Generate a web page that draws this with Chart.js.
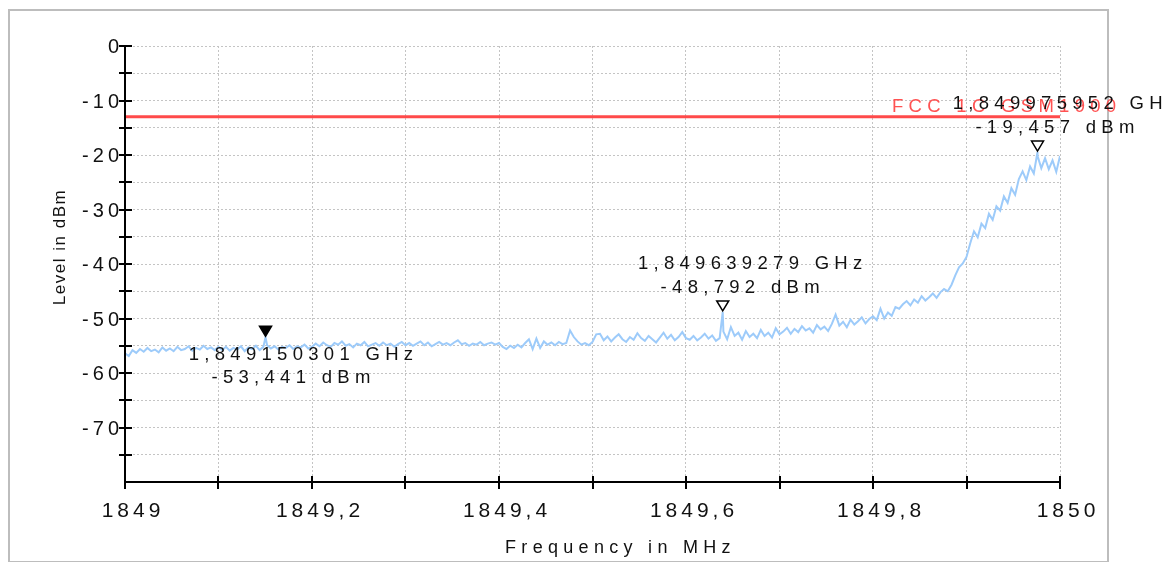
<!DOCTYPE html>
<html>
<head>
<meta charset="utf-8">
<script src="https://cdn.jsdelivr.net/npm/chart.js@4/dist/chart.umd.min.js"></script>
<style>
  html, body { margin: 0; padding: 0; background: #fff; }
  #wrap { width: 1174px; height: 562px; }
</style>
</head>
<body>
<div id="wrap"><canvas id="spectrum" width="1174" height="562"></canvas></div>
<script>
// Spectrum sweep 1849–1850 MHz, one level per 0.004 MHz bin
const sweepStartMHz = 1849;
const sweepStepMHz = 0.004;
const levelsDbm = [
  -56.4, -56.9, -55.8, -56.3, -55.6, -56.1, -55.4, -56.0, -55.7, -56.2,
  -55.3, -55.9, -55.5, -56.0, -55.2, -55.8, -55.6, -55.1, -55.9, -55.4,
  -55.7, -55.0, -55.6, -55.3, -55.8, -55.2,
  -55.8, -55.2, -55.9, -55.4, -55.7, -55.1, -56.0, -55.3, -55.6, -55.0,
  -55.8, -55.2, -54.9, -55.5, -55.1, -55.7, -55.2, -55.4, -54.9, -55.6,
  -55.1, -55.3, -54.8, -55.5, -55.2,
  -54.6, -55.1, -54.4, -54.9, -55.2, -54.5, -54.8, -54.2, -55.0, -54.7,
  -55.3, -54.6, -54.9, -54.3, -55.1, -54.8, -54.5, -55.0, -54.4, -54.9,
  -54.6, -55.2, -54.7, -54.3, -54.9,
  -54.5, -55.0, -54.6, -54.2, -54.9, -54.4, -55.1, -54.7, -54.3, -54.8,
  -54.5, -54.9, -54.4, -54.0, -54.7, -54.5, -55.0, -54.6, -54.8, -54.3,
  -54.9, -54.6, -54.4, -54.8, -54.5,
  -55.2, -55.6, -55.0, -55.4, -54.8, -55.3, -54.5, -53.8, -55.6, -53.7,
  -55.4, -54.2, -54.8, -54.4, -54.9, -54.3, -54.7, -54.5, -52.2, -53.4,
  -54.2, -54.8, -54.5, -54.9, -54.3,
  -52.9, -52.8, -54.0, -53.3, -54.2, -53.5, -52.9, -53.8, -54.3, -53.4,
  -53.9, -52.7, -53.6, -54.1, -53.2, -53.8, -54.4, -53.5, -52.6, -53.7,
  -53.0, -54.0, -53.4, -52.5, -53.6,
  -53.9, -53.2, -54.0, -53.5, -52.8, -53.7, -53.1, -54.1, -53.6, -52.4,
  -53.8, -51.6, -53.2, -52.6, -53.9, -52.3, -53.4, -52.8, -53.6, -52.1,
  -53.2, -52.6, -53.5, -51.8, -52.9,
  -52.4, -51.7, -52.8, -51.9, -52.5, -51.4, -52.2, -51.8, -52.6, -51.2,
  -52.0, -51.5, -52.3, -51.0, -49.3, -51.3, -50.6, -51.6, -50.2, -51.1,
  -50.5, -49.8, -50.9, -50.1, -49.6,
  -50.3, -48.2, -50.0, -48.9, -49.5, -47.9, -48.2, -47.4, -46.8, -47.6,
  -46.5, -47.1, -45.9, -46.7, -46.1, -45.4, -46.2, -45.2, -44.6, -45.0,
  -43.8, -42.1, -40.6, -39.9, -38.7,
  -36.2, -34.0, -35.1, -32.6, -33.4, -30.8, -31.9, -29.4, -30.2, -27.6,
  -28.8, -26.1, -27.3, -24.4, -23.0, -24.6, -22.1, -23.4, -20.2, -22.4,
  -20.6, -22.6, -21.0, -23.1, -20.2
];

// Marker readouts
const markerFreqGHz = [1.849150301, 1.849639279, 1.849975952];
const markerLevelDbm = [-53.441, -48.792, -19.457];

// Emission limit line
const limitDbm = -13;
const limitName = 'FCC 1C GSM1900';

// Axis ticks and their labels
const xTickValues = [1849, 1849.1, 1849.2, 1849.3, 1849.4, 1849.5, 1849.6, 1849.7, 1849.8, 1849.9, 1850];
const xTickLabels = ['1849', '', '1849,2', '', '1849,4', '', '1849,6', '', '1849,8', '', '1850'];
const yTickValues = [-80, -75, -70, -65, -60, -55, -50, -45, -40, -35, -30, -25, -20, -15, -10, -5, 0];
const yTickLabels = ['', '', '-70', '', '-60', '', '-50', '', '-40', '', '-30', '', '-20', '', '-10', '', '0'];

const xTitle = 'Frequency in MHz';
const yTitle = 'Level in dBm';

const FONT = '"Liberation Sans", Arial, Helvetica, sans-serif';
const TICK_SPACING = '4px';

// Trace points: sweep bins plus the exact marker readouts
const trace = levelsDbm.map((y, i) => ({ x: +(sweepStartMHz + i * sweepStepMHz).toFixed(3), y }));
markerFreqGHz.forEach((f, k) => trace.push({ x: f * 1000, y: markerLevelDbm[k] }));
trace.sort((a, b) => a.x - b.x);

const fmtComma = (v, digits) => v.toFixed(digits).replace('.', ',');

const analyzerDecor = {
  id: 'analyzerDecor',
  beforeLayout(chart) {
    chart.ctx.letterSpacing = TICK_SPACING;
  },
  beforeDraw(chart) {
    const ctx = chart.ctx;
    ctx.letterSpacing = TICK_SPACING;
    ctx.save();
    ctx.strokeStyle = '#bdbdbd';
    ctx.lineWidth = 2;
    ctx.strokeRect(9, 10, 1099, 552);
    ctx.restore();
  },
  afterDraw(chart) {
    const { ctx, chartArea: a, scales: { x, y } } = chart;
    ctx.save();

    // Axis lines with tick marks crossing them
    ctx.strokeStyle = '#000';
    ctx.lineWidth = 2;
    ctx.beginPath();
    ctx.moveTo(a.left, a.top - 1);
    ctx.lineTo(a.left, a.bottom + 1);
    ctx.moveTo(a.left - 1, a.bottom);
    ctx.lineTo(a.right + 1, a.bottom);
    xTickValues.forEach(v => {
      const px = Math.round(x.getPixelForValue(v));
      ctx.moveTo(px, a.bottom - 6);
      ctx.lineTo(px, a.bottom + 7);
    });
    yTickValues.forEach(v => {
      if (v === y.min) return;
      const py = Math.round(y.getPixelForValue(v));
      ctx.moveTo(a.left - 6, py);
      ctx.lineTo(a.left + 7, py);
    });
    ctx.stroke();

    // Axis titles
    ctx.fillStyle = '#111';
    ctx.textAlign = 'center';
    ctx.textBaseline = 'alphabetic';
    ctx.font = `18px ${FONT}`;
    ctx.letterSpacing = '5.3px';
    ctx.fillText(xTitle, (a.left + a.right) / 2 + 28, a.bottom + 71);

    ctx.save();
    ctx.translate(65, (a.top + a.bottom) / 2 - 17);
    ctx.rotate(-Math.PI / 2);
    ctx.font = `17px ${FONT}`;
    ctx.letterSpacing = '1.5px';
    ctx.fillText(yTitle, 0, 0);
    ctx.restore();

    // Limit line name
    ctx.fillStyle = '#ff5252';
    ctx.textAlign = 'left';
    ctx.font = `18.5px ${FONT}`;
    ctx.letterSpacing = '5.3px';
    ctx.fillText(limitName, a.right - 168, y.getPixelForValue(limitDbm) - 5);

    // Markers: triangle at the point, frequency and level readout
    ctx.save();
    ctx.beginPath();
    ctx.rect(0, 0, 1165, chart.height);
    ctx.clip();
    markerFreqGHz.forEach((f, k) => {
      const px = x.getPixelForValue(f * 1000);
      const py = y.getPixelForValue(markerLevelDbm[k]);
      const isRef = k === 0;
      ctx.beginPath();
      ctx.moveTo(px - 6, py - 11);
      ctx.lineTo(px + 6, py - 11);
      ctx.lineTo(px, py - 1);
      ctx.closePath();
      ctx.lineWidth = 1.5;
      ctx.strokeStyle = '#000';
      ctx.fillStyle = isRef ? '#000' : '#fff';
      ctx.fill();
      ctx.stroke();

      const line1 = `${fmtComma(f, 9)} GHz`;
      const line2 = `${fmtComma(markerLevelDbm[k], 3)} dBm`;
      ctx.fillStyle = '#111';
      ctx.textAlign = 'center';
      ctx.font = `18.5px ${FONT}`;
      ctx.letterSpacing = '5.3px';
      if (isRef) {
        ctx.fillText(line1, px + 38, py + 23);
        ctx.fillText(line2, px + 28, py + 46);
      } else {
        ctx.fillText(line1, px + 30, py - 43);
        ctx.fillText(line2, px + 20, py - 19);
      }
    });
    ctx.restore();

    ctx.restore();
    ctx.letterSpacing = TICK_SPACING;
  }
};

const gridStyle = { color: '#c4c4c4', lineWidth: 1, drawTicks: false };

new Chart(document.getElementById('spectrum'), {
  type: 'line',
  data: {
    datasets: [
      {
        data: trace,
        borderColor: '#9dcbfa',
        borderWidth: 2,
        pointRadius: 0,
        tension: 0,
        order: 2
      },
      {
        data: [{ x: xTickValues[0], y: limitDbm }, { x: xTickValues[xTickValues.length - 1], y: limitDbm }],
        borderColor: '#ff4a4a',
        borderWidth: 3,
        pointRadius: 0,
        order: 1
      }
    ]
  },
  options: {
    responsive: false,
    animation: false,
    events: [],
    layout: { padding: { left: 0, top: 46, right: 114, bottom: 0 } },
    plugins: { legend: { display: false }, tooltip: { enabled: false } },
    scales: {
      x: {
        type: 'linear',
        min: xTickValues[0],
        max: xTickValues[xTickValues.length - 1],
        afterBuildTicks: s => { s.ticks = xTickValues.map(v => ({ value: v })); },
        afterFit: s => { s.height = 80; },
        grid: gridStyle,
        border: { display: false, dash: [2, 2] },
        ticks: {
          autoSkip: false, maxRotation: 0, minRotation: 0,
          padding: 17, labelOffset: 8, color: '#111',
          font: { family: FONT, size: 21 },
          callback: (v, i) => xTickLabels[i]
        }
      },
      y: {
        type: 'linear',
        min: yTickValues[0],
        max: yTickValues[yTickValues.length - 1],
        afterBuildTicks: s => { s.ticks = yTickValues.map(v => ({ value: v })); },
        afterFit: s => { s.width = 125; },
        grid: gridStyle,
        border: { display: false, dash: [2, 2] },
        ticks: {
          autoSkip: false,
          padding: 2, labelOffset: 1.5, color: '#111',
          font: { family: FONT, size: 20 },
          callback: (v, i) => yTickLabels[i]
        }
      }
    }
  },
  plugins: [analyzerDecor]
});
</script>
</body>
</html>
